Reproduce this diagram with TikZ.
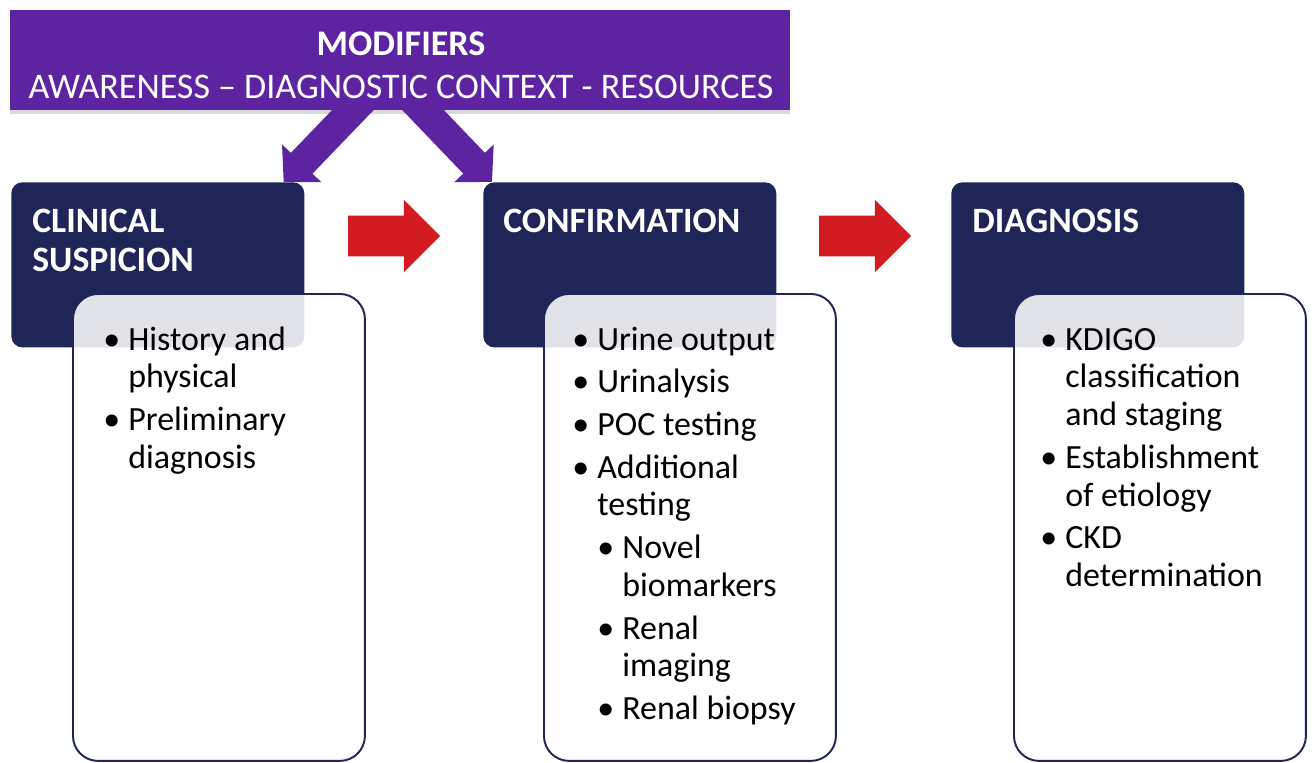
\documentclass[tikz,border=0pt]{standalone}
\usepackage{fontspec}
\setmainfont{Carlito}
\usetikzlibrary{arrows.meta,positioning,shapes.arrows,shadows}
\definecolor{modpurple}{RGB}{93,35,160}
\definecolor{stagenavy}{RGB}{31,38,87}
\definecolor{flowred}{RGB}{210,27,32}
\newcommand{\pointmark}{\makebox[0.5cm][l]{\textbullet}}
\newcommand{\pointgap}{\hspace*{0.5cm}}

\begin{document}
\begin{tikzpicture}[x=0.02cm, y=-0.02cm,
    modbox/.style={fill=modpurple, minimum width=15.6cm, minimum height=2cm, inner sep=0pt,
      drop shadow={opacity=0.3, shadow xshift=0pt, shadow yshift=-2pt}},
    stagebox/.style={fill=stagenavy, rounded corners=0.22cm, anchor=north west,
      minimum width=5.86cm, minimum height=3.3cm, inner sep=0pt},
    listbox/.style={draw=stagenavy, line width=1.1pt, fill=white, fill opacity=0.87,
      rounded corners=0.5cm, anchor=north west, minimum width=5.84cm, minimum height=9.34cm, inner sep=0pt},
    headtxt/.style={text=white, anchor=base west, inner sep=0pt, font=\fontsize{20.3}{22.2}\selectfont\bfseries},
    listtxt/.style={anchor=base west, inner sep=0pt, font=\fontsize{19.3}{21.5}\selectfont},
    modarrow/.style={draw=modpurple, line width=0.6cm, -{Triangle[length=0.52cm, width=1.06cm]}},
    steparrow/.style={single arrow, fill=flowred, minimum height=1.84cm,
      single arrow head extend=0.32cm, inner xsep=0pt, inner ysep=0.4cm}]
  \useasboundingbox (0,0) rectangle (1314,762);

  % modifiers banner
  \node[modbox] (mod) at (400,60) {};

  % the three stages
  \node[stagebox] (cs) at (11,182) {};
  \node[stagebox] (cf) at (483,182) {};
  \node[stagebox] (dg) at (951,182) {};
  \node[listbox] (csl) at (72,293) {};
  \node[listbox] (cfl) at (543,293) {};
  \node[listbox] (dgl) at (1013,293) {};

  % arrows
  \draw[modarrow] ([xshift=-0.66cm, yshift=0.3cm]mod.south) -- ([xshift=-0.42cm]cs.north east);
  \draw[modarrow] ([xshift=0.18cm, yshift=0.3cm]mod.south) -- ([xshift=0.18cm]cf.north west);
  \node[steparrow] (go1) at (384,236) {};
  \node[steparrow] (go2) at (855,236) {};

  % texts
  \node[text=white, anchor=base, inner sep=0pt, font=\fontsize{20.5}{24.5}\selectfont] (modtxt) at (401,55)
    {\begin{tabular}[t]{@{}c@{}}\textbf{MODIFIERS}\\AWARENESS – DIAGNOSTIC CONTEXT - RESOURCES\end{tabular}};
  \node[headtxt] (cstxt) at (32,232) {\begin{tabular}[t]{@{}l@{}}CLINICAL\\SUSPICION\end{tabular}};
  \node[headtxt] (cftxt) at (503,232) {\begin{tabular}[t]{@{}l@{}}CONFIRMATION\end{tabular}};
  \node[headtxt] (dgtxt) at (972,232) {\begin{tabular}[t]{@{}l@{}}DIAGNOSIS\end{tabular}};

  \node[listtxt] (csitems) at (103,350) {\begin{tabular}[t]{@{}l@{}}
    \pointmark History and\\
    \pointgap physical\\[2.8pt]
    \pointmark Preliminary\\
    \pointgap diagnosis
  \end{tabular}};
  \node[listtxt] (cfitems) at (572,350) {\begin{tabular}[t]{@{}l@{}}
    \pointmark Urine output\\[2.8pt]
    \pointmark Urinalysis\\[2.8pt]
    \pointmark POC testing\\[2.8pt]
    \pointmark Additional\\
    \pointgap testing\\[2.8pt]
    \pointgap\pointmark Novel\\
    \pointgap\pointgap biomarkers\\[2.8pt]
    \pointgap\pointmark Renal\\
    \pointgap\pointgap imaging\\[2.8pt]
    \pointgap\pointmark Renal biopsy
  \end{tabular}};
  \node[listtxt] (dgitems) at (1040,350) {\begin{tabular}[t]{@{}l@{}}
    \pointmark KDIGO\\
    \pointgap classification\\
    \pointgap and staging\\[2.8pt]
    \pointmark Establishment\\
    \pointgap of etiology\\[2.8pt]
    \pointmark CKD\\
    \pointgap determination
  \end{tabular}};
\end{tikzpicture}
\end{document}
